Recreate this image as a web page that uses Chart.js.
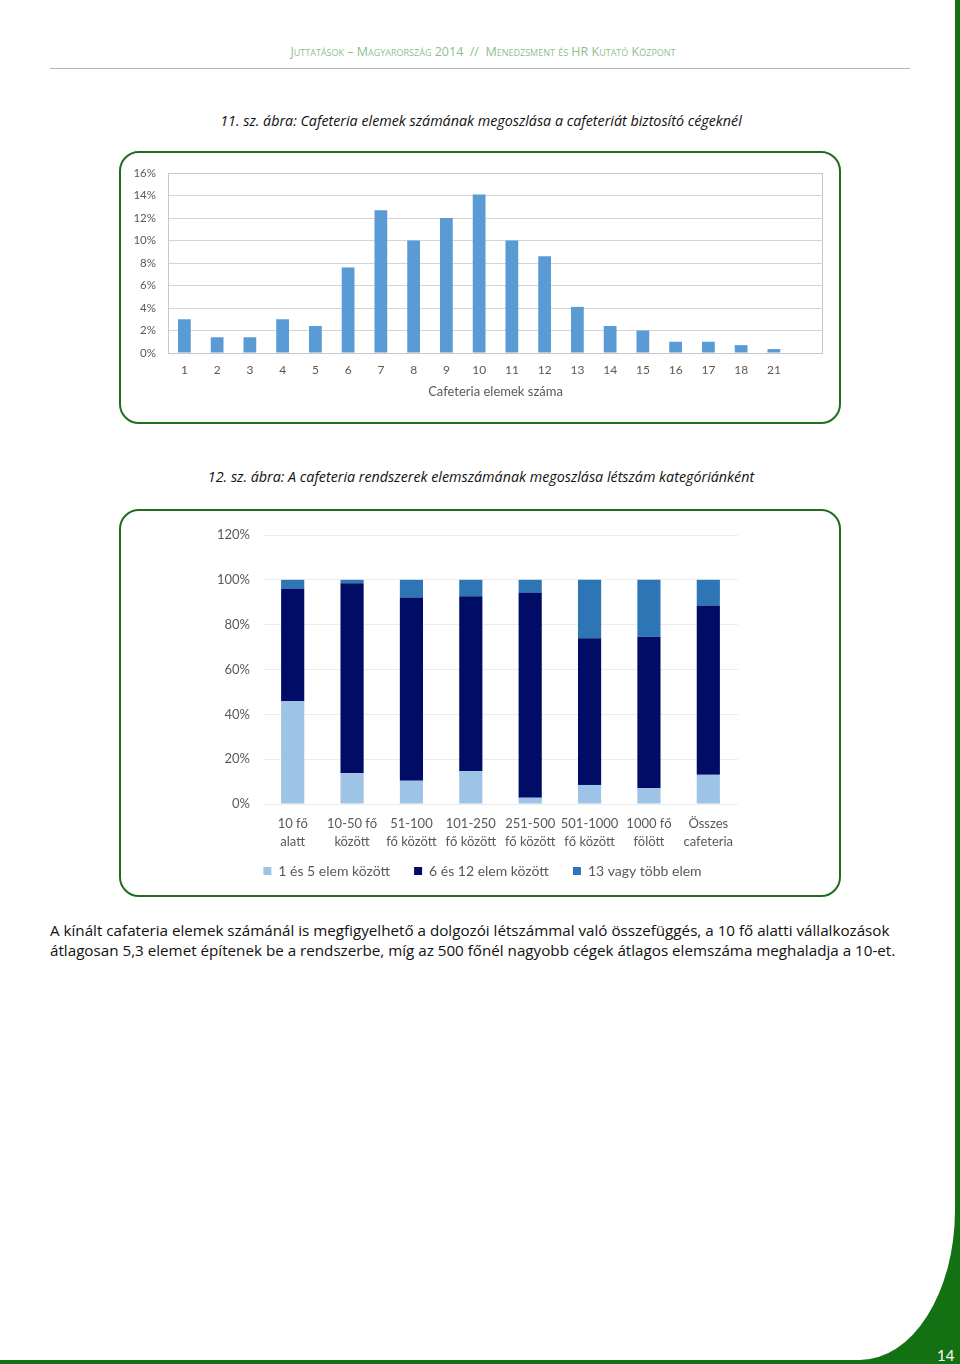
<!DOCTYPE html>
<html lang="hu">
<head>
<meta charset="utf-8">
<script src="https://cdn.jsdelivr.net/npm/chart.js@4/dist/chart.umd.min.js"></script>
<style>
  html, body { margin: 0; padding: 0; }
  body { width: 960px; height: 1364px; background: #137113; position: relative; overflow: hidden; font-family: Lato, sans-serif; }
  #page { position: absolute; left: 0; top: 0; width: 955px; height: 1360px; background: #fff; border-bottom-right-radius: 95px 150px; }
  #header { position: absolute; left: 0; width: 966px; top: 43px; text-align: center; font-family: "Open Sans", sans-serif; font-variant: small-caps; font-size: 12.5px; color: #8cbf8c; }
  #rule { position: absolute; left: 50px; top: 68px; width: 860px; height: 1px; background: #b5b5b5; }
  .caption { position: absolute; left: 0; width: 962px; text-align: center; font-family: "Open Sans", sans-serif; font-style: italic; font-size: 14.3px; color: #111; }
  .box { position: absolute; border: 2px solid #1e6e1e; border-radius: 20px; box-sizing: border-box; }
  .wrap { position: absolute; }
  #para { position: absolute; left: 50px; top: 920px; font-family: "Open Sans", sans-serif; font-size: 15.2px; line-height: 20px; color: #111; white-space: nowrap; }
  #pagenum { position: absolute; left: 937px; top: 1346px; font-size: 15px; color: #fff; }
</style>
</head>
<body>
<div id="page"></div>
<div id="header">Juttatások – Magyarország 2014 &nbsp;//&nbsp; Menedzsment és HR Kutató Központ</div>
<div id="rule"></div>

<div class="caption" style="top:111px">11. sz. ábra: Cafeteria elemek számának megoszlása a cafeteriát biztosító cégeknél</div>
<div class="box" style="left:119px;top:151px;width:722px;height:273px"></div>
<div class="wrap" style="left:121px;top:153px;width:718px;height:268px"><canvas id="chart1"></canvas></div>

<div class="caption" style="top:467px">12. sz. ábra: A cafeteria rendszerek elemszámának megoszlása létszám kategóriánként</div>
<div class="box" style="left:119px;top:509px;width:722px;height:388px"></div>
<div class="wrap" style="left:125px;top:511px;width:715px;height:397px"><canvas id="chart2"></canvas></div>

<div id="para">A kínált cafateria elemek számánál is megfigyelhető a dolgozói létszámmal való összefüggés, a 10 fő alatti vállalkozások<br>átlagosan 5,3 elemet építenek be a rendszerbe, míg az 500 főnél nagyobb cégek átlagos elemszáma meghaladja a 10-et.</div>
<div id="pagenum">14</div>

<script>
// 11. ábra - elemszám eloszlás
const elemLabels = ['1', '2', '3', '4', '5', '6', '7', '8', '9', '10', '11', '12', '13', '14', '15', '16', '17', '18', '21', ''];
const elemShare = [3.0, 1.4, 1.4, 3.0, 2.4, 7.6, 12.7, 10.0, 12.0, 14.1, 10.0, 8.6, 4.1, 2.4, 2.0, 1.0, 1.0, 0.7, 0.35, null];
const elemTicks = [0, 2, 4, 6, 8, 10, 12, 14, 16];

// 12. ábra - létszám kategóriák
const letszamLabels = [['10 fő', 'alatt'], ['10-50 fő', 'között'], ['51-100', 'fő között'], ['101-250', 'fő között'],
                       ['251-500', 'fő között'], ['501-1000', 'fő között'], ['1000 fő', 'fölött'], ['Összes', 'cafeteria']];
const kevesElem = [46, 13.7, 10.4, 14.6, 2.8, 8.5, 7.0, 13.0];
const kozepesElem = [50, 84.8, 81.7, 78.1, 91.4, 65.4, 67.6, 75.4];
const sokElem = [4, 1.5, 7.9, 7.3, 5.8, 26.1, 25.4, 11.6];
const seriesNames = ['1 és 5 elem között', '6 és 12 elem között', '13 vagy több elem'];

Chart.defaults.font.family = 'Lato, sans-serif';
Chart.defaults.color = '#595959';
Chart.defaults.animation = false;

const plotFrame = {
    id: 'plotFrame',
    afterDraw(chart) {
        const a = chart.chartArea;
        const ctx = chart.ctx;
        ctx.save();
        ctx.strokeStyle = '#c8c8c8';
        ctx.lineWidth = 1;
        ctx.strokeRect(a.left + 0.5, a.top + 0.5, a.right - a.left - 1, a.bottom - a.top);
        ctx.restore();
    }
};

// pull the legend a bit closer to the axis labels
const legendLift = {
    id: 'legendLift',
    afterLayout(chart) {
        chart.legend.top -= 14;
        chart.legend.bottom -= 14;
    }
};

new Chart(document.getElementById('chart1'), {
    type: 'bar',
    data: {
        labels: elemLabels,
        datasets: [{
            data: elemShare,
            backgroundColor: '#5b9bd5',
            barPercentage: 0.39,
            categoryPercentage: 1
        }]
    },
    options: {
        responsive: true,
        maintainAspectRatio: false,
        layout: { padding: { left: 0, right: 16, top: 20, bottom: 21 } },
        plugins: { legend: { display: false }, tooltip: { enabled: false } },
        scales: {
            x: {
                grid: { display: false },
                border: { display: false },
                ticks: { font: { size: 12 }, padding: 2, maxRotation: 0, autoSkip: false },
                title: { display: true, text: 'Cafeteria elemek száma', font: { size: 13 }, color: '#595959', padding: 0 },
                afterFit(scale) { scale.height = 47; }
            },
            y: {
                min: 0,
                max: 16,
                afterBuildTicks(scale) { scale.ticks = elemTicks.map(v => ({ value: v })); },
                grid: { color: '#d4d4d4', drawTicks: false },
                border: { display: false },
                ticks: { font: { size: 11.5 }, padding: 12, callback: v => v + '%' },
                afterFit(scale) { scale.width = 47; }
            }
        }
    },
    plugins: [plotFrame]
});

new Chart(document.getElementById('chart2'), {
    type: 'bar',
    data: {
        labels: letszamLabels,
        datasets: [
            { label: seriesNames[0], data: kevesElem, backgroundColor: '#9dc3e6' },
            { label: seriesNames[1], data: kozepesElem, backgroundColor: '#000c66' },
            { label: seriesNames[2], data: sokElem, backgroundColor: '#2e75b6' }
        ]
    },
    options: {
        responsive: true,
        maintainAspectRatio: false,
        layout: { padding: { left: 0, right: 0, top: 24, bottom: 6 } },
        datasets: { bar: { barPercentage: 0.39, categoryPercentage: 1 } },
        plugins: {
            tooltip: { enabled: false },
            legend: {
                position: 'bottom',
                labels: { boxWidth: 8, boxHeight: 8, padding: 24, font: { size: 14 }, color: '#595959' }
            }
        },
        scales: {
            x: {
                stacked: true,
                grid: { display: false },
                border: { display: false },
                ticks: { font: { size: 13, lineHeight: 1.4 }, padding: 3, maxRotation: 0, autoSkip: false },
                afterFit(scale) { scale.height = 50; }
            },
            y: {
                stacked: true,
                min: 0,
                max: 120,
                ticks: { stepSize: 20, font: { size: 13 }, padding: 13, callback: v => v + '%' },
                grid: { color: '#ececec', drawTicks: false },
                border: { display: false },
                afterFit(scale) { scale.width = 138; }
            },
            spacer: {
                position: 'right',
                display: true,
                grid: { display: false },
                border: { display: false },
                ticks: { display: false },
                afterFit(scale) { scale.width = 102; }
            }
        }
    },
    plugins: [legendLift]
});
</script>
</body>
</html>
